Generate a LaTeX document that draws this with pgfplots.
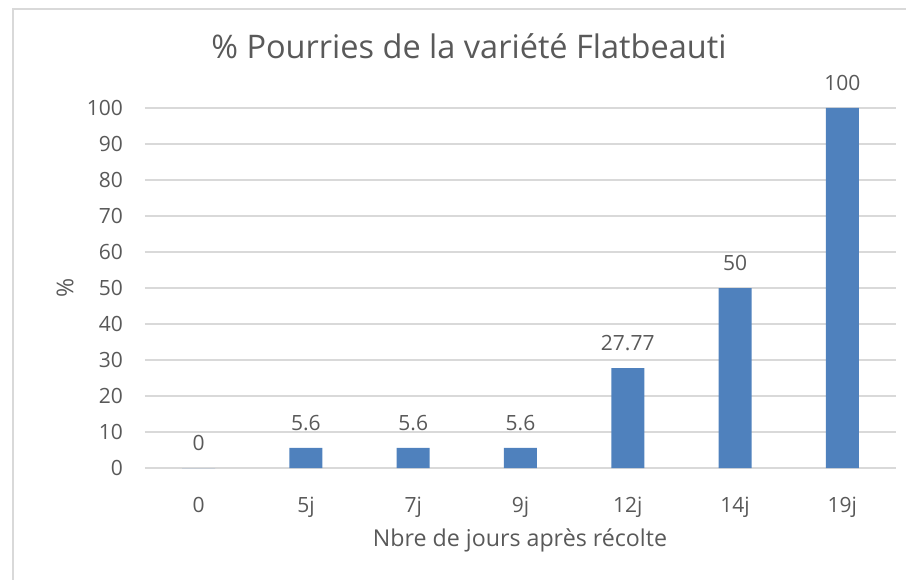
\documentclass[border=0pt]{standalone}
\usepackage{pgfplots}
\usepackage{pgfplotstable}
\pgfplotsset{compat=1.18}
\usepackage{fontspec}
\setmainfont{Open Sans}
\definecolor{barc}{HTML}{4F81BD}
\definecolor{txt}{HTML}{595959}
\definecolor{gridc}{HTML}{D9D9D9}
\pgfplotstableread{
x y lab
0 0 0
1 5.6 5.6
2 5.6 5.6
3 5.6 5.6
4 27.77 27.77
5 50 50
6 100 100
}\data
\begin{document}
\begin{tikzpicture}[x=1pt,y=1pt]
\path[use as bounding box] (0,0) rectangle (906,-580);
\draw[gridc, line width=2pt] (13,-580) -- (13,-9) -- (906,-9);
\begin{axis}[at={(145pt,-468pt)}, anchor=south west, scale only axis,
  width=751pt, height=360pt, clip=false,
  ybar, bar width=33pt,
  xmin=-0.5, xmax=6.5, ymin=0, ymax=100,
  xtick={0,...,6}, xticklabels={0,5j,7j,9j,12j,14j,19j},
  ytick={0,10,...,100},
  axis line style={draw=none}, tick style={draw=none},
  ymajorgrids, grid style={gridc, line width=1.5pt},
  /pgf/number format/assume math mode=true,
  ticklabel style={font=\fontsize{21}{25}\selectfont, text=txt},
  yticklabel style={anchor=east, inner sep=0pt, xshift=-22pt},
  xticklabel style={anchor=base, inner sep=0pt, yshift=-40pt},
  title={\% Pourries de la variété Flatbeauti},
  title style={at={(0.4314,1.1222)}, anchor=base, inner sep=0pt,
    font=\fontsize{32.5}{38}\selectfont, text=txt},
  xlabel={Nbre de jours après récolte},
  xlabel style={at={(0.4993,-0.2194)}, anchor=base, inner sep=0pt,
    font=\fontsize{23.2}{28}\selectfont, text=txt},
  ylabel={\%},
  ylabel style={at={(-0.1065,0.5)}, anchor=center, inner sep=0pt,
    font=\fontsize{23.2}{28}\selectfont, text=txt},
  nodes near coords, point meta=explicit symbolic,
  nodes near coords style={font=\fontsize{21}{25}\selectfont, text=txt,
    anchor=south, inner sep=0pt, yshift=17pt},
]
\addplot[fill=barc, draw=none] table[x=x, y=y, meta=lab]{\data};
\end{axis}
\end{tikzpicture}
\end{document}
